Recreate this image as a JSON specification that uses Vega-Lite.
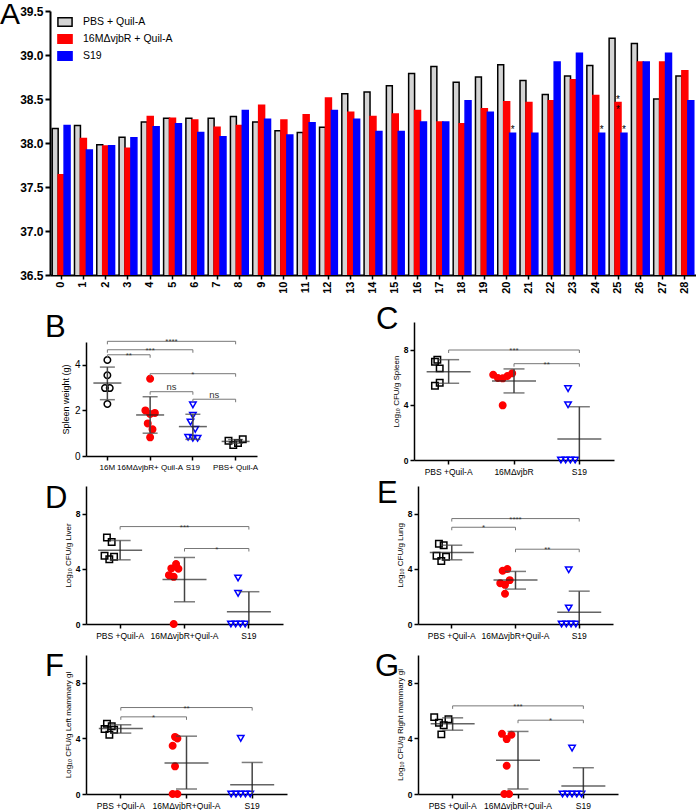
{
 "$schema": "https://vega.github.io/schema/vega-lite/v6.json",
 "padding": 0,
 "background": "white",
 "config": {
  "view": {"stroke": null},
  "font": "Liberation Sans",
  "axis": {"grid": false, "domainColor": "#000000", "tickColor": "#000000", "labelColor": "#000000", "titleColor": "#000000", "labelFont": "Liberation Sans", "titleFont": "Liberation Sans", "labelOverlap": false},
  "title": {"font": "Liberation Sans", "fontSize": 31, "fontWeight": "normal", "color": "#000000", "anchor": "start", "frame": "group", "baseline": "alphabetic"}
 },
 "datasets": {
  "temp": [
   {"day":0,"series":"PBS + Quil-A","value":38.165},{"day":0,"series":"16MΔvjbR + Quil-A","value":37.64},{"day":0,"series":"S19","value":38.2},
   {"day":1,"series":"PBS + Quil-A","value":38.2},{"day":1,"series":"16MΔvjbR + Quil-A","value":38.05},{"day":1,"series":"S19","value":37.92},
   {"day":2,"series":"PBS + Quil-A","value":37.98},{"day":2,"series":"16MΔvjbR + Quil-A","value":37.965},{"day":2,"series":"S19","value":37.97},
   {"day":3,"series":"PBS + Quil-A","value":38.065},{"day":3,"series":"16MΔvjbR + Quil-A","value":37.94},{"day":3,"series":"S19","value":38.06},
   {"day":4,"series":"PBS + Quil-A","value":38.24},{"day":4,"series":"16MΔvjbR + Quil-A","value":38.3},{"day":4,"series":"S19","value":38.185},
   {"day":5,"series":"PBS + Quil-A","value":38.28},{"day":5,"series":"16MΔvjbR + Quil-A","value":38.28},{"day":5,"series":"S19","value":38.22},
   {"day":6,"series":"PBS + Quil-A","value":38.28},{"day":6,"series":"16MΔvjbR + Quil-A","value":38.26},{"day":6,"series":"S19","value":38.12},
   {"day":7,"series":"PBS + Quil-A","value":38.28},{"day":7,"series":"16MΔvjbR + Quil-A","value":38.18},{"day":7,"series":"S19","value":38.07},
   {"day":8,"series":"PBS + Quil-A","value":38.3},{"day":8,"series":"16MΔvjbR + Quil-A","value":38.2},{"day":8,"series":"S19","value":38.37},
   {"day":9,"series":"PBS + Quil-A","value":38.24},{"day":9,"series":"16MΔvjbR + Quil-A","value":38.43},{"day":9,"series":"S19","value":38.27},
   {"day":10,"series":"PBS + Quil-A","value":38.14},{"day":10,"series":"16MΔvjbR + Quil-A","value":38.26},{"day":10,"series":"S19","value":38.09},
   {"day":11,"series":"PBS + Quil-A","value":38.12},{"day":11,"series":"16MΔvjbR + Quil-A","value":38.32},{"day":11,"series":"S19","value":38.23},
   {"day":12,"series":"PBS + Quil-A","value":38.18},{"day":12,"series":"16MΔvjbR + Quil-A","value":38.51},{"day":12,"series":"S19","value":38.37},
   {"day":13,"series":"PBS + Quil-A","value":38.56},{"day":13,"series":"16MΔvjbR + Quil-A","value":38.35},{"day":13,"series":"S19","value":38.27},
   {"day":14,"series":"PBS + Quil-A","value":38.58},{"day":14,"series":"16MΔvjbR + Quil-A","value":38.3},{"day":14,"series":"S19","value":38.13},
   {"day":15,"series":"PBS + Quil-A","value":38.65},{"day":15,"series":"16MΔvjbR + Quil-A","value":38.33},{"day":15,"series":"S19","value":38.13},
   {"day":16,"series":"PBS + Quil-A","value":38.79},{"day":16,"series":"16MΔvjbR + Quil-A","value":38.37},{"day":16,"series":"S19","value":38.24},
   {"day":17,"series":"PBS + Quil-A","value":38.87},{"day":17,"series":"16MΔvjbR + Quil-A","value":38.24},{"day":17,"series":"S19","value":38.24},
   {"day":18,"series":"PBS + Quil-A","value":38.69},{"day":18,"series":"16MΔvjbR + Quil-A","value":38.22},{"day":18,"series":"S19","value":38.48},
   {"day":19,"series":"PBS + Quil-A","value":38.75},{"day":19,"series":"16MΔvjbR + Quil-A","value":38.39},{"day":19,"series":"S19","value":38.35},
   {"day":20,"series":"PBS + Quil-A","value":38.89},{"day":20,"series":"16MΔvjbR + Quil-A","value":38.47},{"day":20,"series":"S19","value":38.11},
   {"day":21,"series":"PBS + Quil-A","value":38.71},{"day":21,"series":"16MΔvjbR + Quil-A","value":38.46},{"day":21,"series":"S19","value":38.11},
   {"day":22,"series":"PBS + Quil-A","value":38.55},{"day":22,"series":"16MΔvjbR + Quil-A","value":38.48},{"day":22,"series":"S19","value":38.92},
   {"day":23,"series":"PBS + Quil-A","value":38.76},{"day":23,"series":"16MΔvjbR + Quil-A","value":38.72},{"day":23,"series":"S19","value":39.02},
   {"day":24,"series":"PBS + Quil-A","value":38.88},{"day":24,"series":"16MΔvjbR + Quil-A","value":38.54},{"day":24,"series":"S19","value":38.11},
   {"day":25,"series":"PBS + Quil-A","value":39.19},{"day":25,"series":"16MΔvjbR + Quil-A","value":38.46},{"day":25,"series":"S19","value":38.11},
   {"day":26,"series":"PBS + Quil-A","value":39.13},{"day":26,"series":"16MΔvjbR + Quil-A","value":38.92},{"day":26,"series":"S19","value":38.92},
   {"day":27,"series":"PBS + Quil-A","value":38.5},{"day":27,"series":"16MΔvjbR + Quil-A","value":38.92},{"day":27,"series":"S19","value":39.02},
   {"day":28,"series":"PBS + Quil-A","value":38.76},{"day":28,"series":"16MΔvjbR + Quil-A","value":38.82},{"day":28,"series":"S19","value":38.48}
  ],
  "stars": [
   {"day":20,"series":"S19","value":38.11,"lab":"*"},
   {"day":24,"series":"S19","value":38.11,"lab":"*"},
   {"day":25,"series":"16MΔvjbR + Quil-A","value":38.46,"lab":"*\n*"},
   {"day":25,"series":"S19","value":38.11,"lab":"*"}
  ],
  "pts": [
   {"p":"B","grp":"16M","t":"wt","v":4.21,"s":0},{"p":"B","grp":"16M","t":"wt","v":3.54,"s":0},{"p":"B","grp":"16M","t":"wt","v":2.98,"s":-1},{"p":"B","grp":"16M","t":"wt","v":2.98,"s":1},{"p":"B","grp":"16M","t":"wt","v":2.28,"s":0},
   {"p":"B","grp":"16MΔvjbR+ Quil-A","t":"mut","v":3.39,"s":0},{"p":"B","grp":"16MΔvjbR+ Quil-A","t":"mut","v":2.0,"s":-2},{"p":"B","grp":"16MΔvjbR+ Quil-A","t":"mut","v":1.89,"s":2},{"p":"B","grp":"16MΔvjbR+ Quil-A","t":"mut","v":1.84,"s":0},{"p":"B","grp":"16MΔvjbR+ Quil-A","t":"mut","v":1.43,"s":-1},{"p":"B","grp":"16MΔvjbR+ Quil-A","t":"mut","v":1.17,"s":1},{"p":"B","grp":"16MΔvjbR+ Quil-A","t":"mut","v":0.82,"s":0},
   {"p":"B","grp":"S19","t":"s19","v":2.24,"s":0},{"p":"B","grp":"S19","t":"s19","v":1.78,"s":0},{"p":"B","grp":"S19","t":"s19","v":1.49,"s":-1},{"p":"B","grp":"S19","t":"s19","v":1.17,"s":1},{"p":"B","grp":"S19","t":"s19","v":0.82,"s":-2},{"p":"B","grp":"S19","t":"s19","v":0.78,"s":0},{"p":"B","grp":"S19","t":"s19","v":0.78,"s":2},
   {"p":"B","grp":"PBS+ Quil-A","t":"pbs","v":0.67,"s":-3},{"p":"B","grp":"PBS+ Quil-A","t":"pbs","v":0.48,"s":-1},{"p":"B","grp":"PBS+ Quil-A","t":"pbs","v":0.57,"s":1},{"p":"B","grp":"PBS+ Quil-A","t":"pbs","v":0.73,"s":3},

   {"p":"C","grp":"PBS +Quil-A","t":"pbs","v":7.12,"s":-1},{"p":"C","grp":"PBS +Quil-A","t":"pbs","v":7.27,"s":0},{"p":"C","grp":"PBS +Quil-A","t":"pbs","v":6.64,"s":1},{"p":"C","grp":"PBS +Quil-A","t":"pbs","v":5.6,"s":1},{"p":"C","grp":"PBS +Quil-A","t":"pbs","v":5.38,"s":-1},
   {"p":"C","grp":"16MΔvjbR","t":"mut","v":6.18,"s":-4},{"p":"C","grp":"16MΔvjbR","t":"mut","v":5.94,"s":-2},{"p":"C","grp":"16MΔvjbR","t":"mut","v":5.92,"s":0},{"p":"C","grp":"16MΔvjbR","t":"mut","v":6.09,"s":2},{"p":"C","grp":"16MΔvjbR","t":"mut","v":6.28,"s":4},{"p":"C","grp":"16MΔvjbR","t":"mut","v":3.96,"s":0},
   {"p":"C","grp":"S19","t":"s19","v":5.17,"s":0},{"p":"C","grp":"S19","t":"s19","v":4.0,"s":0},{"p":"C","grp":"S19","t":"s19","v":0,"s":-3},{"p":"C","grp":"S19","t":"s19","v":0,"s":-1},{"p":"C","grp":"S19","t":"s19","v":0,"s":1},{"p":"C","grp":"S19","t":"s19","v":0,"s":3},

   {"p":"D","grp":"PBS +Quil-A","t":"pbs","v":6.27,"s":-1},{"p":"D","grp":"PBS +Quil-A","t":"pbs","v":5.95,"s":1},{"p":"D","grp":"PBS +Quil-A","t":"pbs","v":4.94,"s":-2},{"p":"D","grp":"PBS +Quil-A","t":"pbs","v":4.7,"s":0},{"p":"D","grp":"PBS +Quil-A","t":"pbs","v":4.87,"s":2},
   {"p":"D","grp":"16MΔvjbR+Quil-A","t":"mut","v":3.54,"s":-2},{"p":"D","grp":"16MΔvjbR+Quil-A","t":"mut","v":3.42,"s":0},{"p":"D","grp":"16MΔvjbR+Quil-A","t":"mut","v":4.03,"s":-1},{"p":"D","grp":"16MΔvjbR+Quil-A","t":"mut","v":4.34,"s":1},{"p":"D","grp":"16MΔvjbR+Quil-A","t":"mut","v":4.0,"s":2},{"p":"D","grp":"16MΔvjbR+Quil-A","t":"mut","v":0,"s":0},
   {"p":"D","grp":"S19","t":"s19","v":3.33,"s":0},{"p":"D","grp":"S19","t":"s19","v":2.22,"s":0},{"p":"D","grp":"S19","t":"s19","v":0,"s":-3},{"p":"D","grp":"S19","t":"s19","v":0,"s":-1},{"p":"D","grp":"S19","t":"s19","v":0,"s":1},{"p":"D","grp":"S19","t":"s19","v":0,"s":3},

   {"p":"E","grp":"PBS +Quil-A","t":"pbs","v":5.81,"s":-1},{"p":"E","grp":"PBS +Quil-A","t":"pbs","v":5.71,"s":1},{"p":"E","grp":"PBS +Quil-A","t":"pbs","v":4.94,"s":-2},{"p":"E","grp":"PBS +Quil-A","t":"pbs","v":4.87,"s":2},{"p":"E","grp":"PBS +Quil-A","t":"pbs","v":4.56,"s":0},
   {"p":"E","grp":"16MΔvjbR+Quil-A","t":"mut","v":3.86,"s":-1},{"p":"E","grp":"16MΔvjbR+Quil-A","t":"mut","v":3.98,"s":1},{"p":"E","grp":"16MΔvjbR+Quil-A","t":"mut","v":3.18,"s":2},{"p":"E","grp":"16MΔvjbR+Quil-A","t":"mut","v":2.96,"s":-2},{"p":"E","grp":"16MΔvjbR+Quil-A","t":"mut","v":2.84,"s":0},{"p":"E","grp":"16MΔvjbR+Quil-A","t":"mut","v":2.19,"s":0},
   {"p":"E","grp":"S19","t":"s19","v":3.93,"s":0},{"p":"E","grp":"S19","t":"s19","v":1.16,"s":0},{"p":"E","grp":"S19","t":"s19","v":0,"s":-3},{"p":"E","grp":"S19","t":"s19","v":0,"s":-1},{"p":"E","grp":"S19","t":"s19","v":0,"s":1},{"p":"E","grp":"S19","t":"s19","v":0,"s":3},

   {"p":"F","grp":"PBS +Quil-A","t":"pbs","v":5.05,"s":-1},{"p":"F","grp":"PBS +Quil-A","t":"pbs","v":4.88,"s":1},{"p":"F","grp":"PBS +Quil-A","t":"pbs","v":4.67,"s":-2},{"p":"F","grp":"PBS +Quil-A","t":"pbs","v":4.62,"s":2},{"p":"F","grp":"PBS +Quil-A","t":"pbs","v":4.26,"s":0},
   {"p":"F","grp":"16MΔvjbR+Quil-A","t":"mut","v":4.11,"s":0},{"p":"F","grp":"16MΔvjbR+Quil-A","t":"mut","v":4.0,"s":1},{"p":"F","grp":"16MΔvjbR+Quil-A","t":"mut","v":3.47,"s":-1},{"p":"F","grp":"16MΔvjbR+Quil-A","t":"mut","v":1.99,"s":0},{"p":"F","grp":"16MΔvjbR+Quil-A","t":"mut","v":0,"s":-1},{"p":"F","grp":"16MΔvjbR+Quil-A","t":"mut","v":0,"s":1},
   {"p":"F","grp":"S19","t":"s19","v":4.0,"s":0},{"p":"F","grp":"S19","t":"s19","v":0,"s":-4},{"p":"F","grp":"S19","t":"s19","v":0,"s":-2},{"p":"F","grp":"S19","t":"s19","v":0,"s":0},{"p":"F","grp":"S19","t":"s19","v":0,"s":2},{"p":"F","grp":"S19","t":"s19","v":0,"s":4},

   {"p":"G","grp":"PBS +Quil-A","t":"pbs","v":5.53,"s":-3},{"p":"G","grp":"PBS +Quil-A","t":"pbs","v":5.12,"s":-1},{"p":"G","grp":"PBS +Quil-A","t":"pbs","v":4.95,"s":1},{"p":"G","grp":"PBS +Quil-A","t":"pbs","v":5.38,"s":3},{"p":"G","grp":"PBS +Quil-A","t":"pbs","v":4.29,"s":0},
   {"p":"G","grp":"16MΔvjbR+Quil-A","t":"mut","v":4.33,"s":-2},{"p":"G","grp":"16MΔvjbR+Quil-A","t":"mut","v":4.26,"s":2},{"p":"G","grp":"16MΔvjbR+Quil-A","t":"mut","v":3.95,"s":0},{"p":"G","grp":"16MΔvjbR+Quil-A","t":"mut","v":2.03,"s":0},{"p":"G","grp":"16MΔvjbR+Quil-A","t":"mut","v":0,"s":-1},{"p":"G","grp":"16MΔvjbR+Quil-A","t":"mut","v":0,"s":1},
   {"p":"G","grp":"S19","t":"s19","v":3.3,"s":0},{"p":"G","grp":"S19","t":"s19","v":0,"s":-4},{"p":"G","grp":"S19","t":"s19","v":0,"s":-2},{"p":"G","grp":"S19","t":"s19","v":0,"s":0},{"p":"G","grp":"S19","t":"s19","v":0,"s":2},{"p":"G","grp":"S19","t":"s19","v":0,"s":4}
  ],
  "sum": [
   {"p":"B","g":1,"mean":3.2,"lo":2.47,"hi":3.9},{"p":"B","g":2,"mean":1.8,"lo":1.0,"hi":2.6},{"p":"B","g":3,"mean":1.29,"lo":0.73,"hi":1.83},{"p":"B","g":4,"mean":0.64,"lo":0.56,"hi":0.72},
   {"p":"C","g":1,"mean":6.4,"lo":5.56,"hi":7.27},{"p":"C","g":2,"mean":5.72,"lo":4.86,"hi":6.6},{"p":"C","g":3,"mean":1.52,"lo":-0.82,"hi":3.86},
   {"p":"D","g":1,"mean":5.35,"lo":4.65,"hi":6.05},{"p":"D","g":2,"mean":3.23,"lo":1.61,"hi":4.82},{"p":"D","g":3,"mean":0.89,"lo":-0.56,"hi":2.34},
   {"p":"E","g":1,"mean":5.18,"lo":4.65,"hi":5.71},{"p":"E","g":2,"mean":3.18,"lo":2.53,"hi":3.81},{"p":"E","g":3,"mean":0.85,"lo":-0.68,"hi":2.38},
   {"p":"F","g":1,"mean":4.71,"lo":4.38,"hi":4.98},{"p":"F","g":2,"mean":2.23,"lo":0.36,"hi":4.16},{"p":"F","g":3,"mean":0.67,"lo":-0.93,"hi":2.27},
   {"p":"G","g":1,"mean":5.05,"lo":4.59,"hi":5.48},{"p":"G","g":2,"mean":2.42,"lo":0.36,"hi":4.5},{"p":"G","g":3,"mean":0.57,"lo":-0.75,"hi":1.89}
  ],
  "br": [
   {"p":"B","g1":1,"g2":4,"gm":2.5,"h":5.03,"lab":"****"},{"p":"B","g1":1,"g2":3,"gm":2,"h":4.66,"lab":"***"},{"p":"B","g1":1,"g2":2,"gm":1.5,"h":4.44,"lab":"**"},{"p":"B","g1":2,"g2":4,"gm":3,"h":3.61,"lab":"*"},{"p":"B","g1":2,"g2":3,"gm":2.5,"h":2.82,"lab":"ns"},{"p":"B","g1":3,"g2":4,"gm":3.5,"h":2.49,"lab":"ns"},
   {"p":"C","g1":1,"g2":3,"gm":2,"h":7.97,"lab":"***"},{"p":"C","g1":2,"g2":3,"gm":2.5,"h":6.98,"lab":"**"},
   {"p":"D","g1":1,"g2":3,"gm":2,"h":7.06,"lab":"***"},{"p":"D","g1":2,"g2":3,"gm":2.5,"h":5.47,"lab":"*"},
   {"p":"E","g1":1,"g2":3,"gm":2,"h":7.64,"lab":"****"},{"p":"E","g1":1,"g2":2,"gm":1.5,"h":7.01,"lab":"*"},{"p":"E","g1":2,"g2":3,"gm":2.5,"h":5.42,"lab":"**"},
   {"p":"F","g1":1,"g2":3,"gm":2,"h":6.22,"lab":"**"},{"p":"F","g1":1,"g2":2,"gm":1.5,"h":5.55,"lab":"*"},
   {"p":"G","g1":1,"g2":3,"gm":2,"h":6.34,"lab":"***"},{"p":"G","g1":2,"g2":3,"gm":2.5,"h":5.31,"lab":"*"}
  ]
 },
 "resolve": {"scale": {"fill": "independent", "stroke": "independent", "shape": "independent"}},
 "align": "none",
 "spacing": 10,
 "vconcat": [
  {
   "width": 646, "height": 264,
   "title": {"text": "A", "dx": -50, "offset": -25, "fontSize": 30},
   "layer": [
    {
     "data": {"name": "temp"},
     "mark": {"type": "bar", "strokeWidth": 1.5, "clip": true},
     "encoding": {
      "x": {"field": "day", "type": "ordinal", "scale": {"type": "band", "paddingInner": 0.2, "paddingOuter": 0.1},
            "axis": {"title": null, "labelAngle": 270, "labelFontWeight": "bold", "labelFontSize": 11, "tickSize": 4, "tickWidth": 1.5, "domainWidth": 2, "labelPadding": 2}},
      "xOffset": {"field": "series", "type": "nominal", "scale": {"domain": ["PBS + Quil-A", "16MΔvjbR + Quil-A", "S19"], "paddingInner": 0, "paddingOuter": 0}},
      "y": {"field": "value", "type": "quantitative", "scale": {"domain": [36.5, 39.5], "zero": false, "nice": false},
            "axis": {"title": null, "values": [36.5, 37, 37.5, 38, 38.5, 39, 39.5], "format": ".1f", "labelFontWeight": "bold", "labelFontSize": 12, "tickSize": 5, "tickWidth": 2, "domainWidth": 2, "labelPadding": 2}},
      "fill": {"field": "series", "type": "nominal", "scale": {"domain": ["PBS + Quil-A", "16MΔvjbR + Quil-A", "S19"], "range": ["#d4d4d4", "#ff0000", "#0000ff"]},
               "legend": {"title": null, "orient": "none", "legendX": 7, "legendY": 3, "labelFontSize": 10.5, "labelFont": "Liberation Sans", "labelColor": "#000000", "symbolType": "M-1,-0.6H1V0.6H-1Z", "symbolSize": 200, "symbolStrokeWidth": 1.5, "rowPadding": 1, "labelOffset": 10, "padding": 0}},
      "stroke": {"field": "series", "type": "nominal", "scale": {"domain": ["PBS + Quil-A", "16MΔvjbR + Quil-A", "S19"], "range": ["#000000", "#ff0000", "#0000ff"]},
               "legend": {"title": null, "orient": "none", "legendX": 7, "legendY": 3, "labelFontSize": 10.5, "labelFont": "Liberation Sans", "labelColor": "#000000", "symbolType": "M-1,-0.6H1V0.6H-1Z", "symbolSize": 200, "symbolStrokeWidth": 1.5, "rowPadding": 1, "labelOffset": 10, "padding": 0}}
     }
    },
    {
     "data": {"name": "stars"},
     "mark": {"type": "text", "fontSize": 10, "baseline": "bottom", "dy": 2, "lineBreak": "\n", "lineHeight": 10, "color": "#000000"},
     "encoding": {
      "x": {"field": "day", "type": "ordinal"},
      "xOffset": {"field": "series", "type": "nominal"},
      "y": {"field": "value", "type": "quantitative"},
      "text": {"field": "lab"}
     }
    }
   ]
  },
  {
   "spacing": -6,
   "hconcat": [
    {"width": 1, "height": 1, "data": {"values": []}, "mark": "point"},
    {
     "spacing": 2,
     "vconcat": [
      {
       "spacing": 118,
       "hconcat": [
        {
         "spacing": -11,
         "vconcat": [
          {"width": 1, "height": 1, "data": {"values": []}, "mark": "point"},
          {
           "width": 171, "height": 114,
           "title": {"text": "B", "dx": -41, "offset": -6},
           "layer": [
            {
             "data": {"name": "pts"}, "transform": [{"filter": "datum.p === 'B'"}],
             "mark": {"type": "point", "size": 42, "strokeWidth": 1.5, "opacity": 1},
             "encoding": {
              "x": {"field": "grp", "type": "nominal", "scale": {"type": "band", "domain": ["16M", "16MΔvjbR+ Quil-A", "S19", "PBS+ Quil-A"], "paddingInner": 0, "paddingOuter": 0},
                    "axis": {"title": null, "labelAngle": 0, "labelFontSize": 8, "labelPadding": 3, "tickSize": 4, "tickWidth": 1.5, "domainWidth": 1.5, "labelBound": false, "labelFlush": false}},
              "xOffset": {"field": "s", "type": "quantitative", "scale": {"domain": [-6.5, 6.5]}},
              "y": {"field": "v", "type": "quantitative", "scale": {"domain": [0, 5], "nice": false},
                    "axis": {"title": "Spleen weight (g)", "values": [0, 1, 2, 3, 4, 5], "labelFontSize": 10, "tickSize": 4, "tickWidth": 1.5, "domainWidth": 1.5, "titleFontSize": 9, "titleFontWeight": "normal", "titlePadding": 4, "labelPadding": 2}},
              "shape": {"field": "t", "type": "nominal", "scale": {"domain": ["wt", "pbs", "mut", "s19"], "range": ["circle", "square", "circle", "triangle-down"]}, "legend": null},
              "stroke": {"field": "t", "type": "nominal", "scale": {"domain": ["wt", "pbs", "mut", "s19"], "range": ["#000000", "#000000", "#ff0000", "#0000ff"]}, "legend": null},
              "fill": {"field": "t", "type": "nominal", "scale": {"domain": ["wt", "pbs", "mut", "s19"], "range": ["transparent", "transparent", "#ff0000", "transparent"]}, "legend": null}
             }
            },
            {
             "layer": [
              {"data": {"name": "sum"}, "transform": [{"filter": "datum.p === 'B'"}], "mark": {"type": "rule", "color": "#444444", "strokeWidth": 1.5, "clip": true},
               "encoding": {"x": {"field": "g", "type": "quantitative", "scale": {"domain": [0.5, 4.5]}, "axis": null}, "y": {"field": "lo", "type": "quantitative", "scale": {"domain": [0, 5], "nice": false}}, "y2": {"field": "hi"}}},
              {"data": {"name": "sum"}, "transform": [{"filter": "datum.p === 'B'"}], "mark": {"type": "tick", "orient": "horizontal", "size": 28, "thickness": 1.5, "color": "#222222"},
               "encoding": {"x": {"field": "g", "type": "quantitative", "scale": {"domain": [0.5, 4.5]}, "axis": null}, "y": {"field": "mean", "type": "quantitative", "scale": {"domain": [0, 5], "nice": false}}}},
              {"data": {"name": "sum"}, "transform": [{"filter": "datum.p === 'B'"}], "mark": {"type": "tick", "orient": "horizontal", "size": 15, "thickness": 1.5, "color": "#444444", "clip": true},
               "encoding": {"x": {"field": "g", "type": "quantitative", "scale": {"domain": [0.5, 4.5]}, "axis": null}, "y": {"field": "hi", "type": "quantitative", "scale": {"domain": [0, 5], "nice": false}}}},
              {"data": {"name": "sum"}, "transform": [{"filter": "datum.p === 'B'"}], "mark": {"type": "tick", "orient": "horizontal", "size": 15, "thickness": 1.5, "color": "#444444", "clip": true},
               "encoding": {"x": {"field": "g", "type": "quantitative", "scale": {"domain": [0.5, 4.5]}, "axis": null}, "y": {"field": "lo", "type": "quantitative", "scale": {"domain": [0, 5], "nice": false}}}},
              {"data": {"name": "br"}, "transform": [{"filter": "datum.p === 'B'"}], "mark": {"type": "rule", "color": "#777777", "strokeWidth": 1},
               "encoding": {"x": {"field": "g1", "type": "quantitative", "scale": {"domain": [0.5, 4.5]}, "axis": null}, "x2": {"field": "g2"}, "y": {"field": "h", "type": "quantitative", "scale": {"domain": [0, 5], "nice": false}}}},
              {"data": {"name": "br"}, "transform": [{"filter": "datum.p === 'B'"}], "mark": {"type": "point", "shape": "M0,0L0,1", "size": 36, "stroke": "#777777", "strokeWidth": 1, "filled": false, "opacity": 1},
               "encoding": {"x": {"field": "g1", "type": "quantitative", "scale": {"domain": [0.5, 4.5]}, "axis": null}, "y": {"field": "h", "type": "quantitative", "scale": {"domain": [0, 5], "nice": false}}}},
              {"data": {"name": "br"}, "transform": [{"filter": "datum.p === 'B'"}], "mark": {"type": "point", "shape": "M0,0L0,1", "size": 36, "stroke": "#777777", "strokeWidth": 1, "filled": false, "opacity": 1},
               "encoding": {"x": {"field": "g2", "type": "quantitative", "scale": {"domain": [0.5, 4.5]}, "axis": null}, "y": {"field": "h", "type": "quantitative", "scale": {"domain": [0, 5], "nice": false}}}},
              {"data": {"name": "br"}, "transform": [{"filter": "datum.p === 'B' && datum.lab !== 'ns'"}], "mark": {"type": "text", "fontSize": 8, "baseline": "alphabetic", "dy": 3, "color": "#333333"},
               "encoding": {"x": {"field": "gm", "type": "quantitative", "scale": {"domain": [0.5, 4.5]}, "axis": null}, "y": {"field": "h", "type": "quantitative", "scale": {"domain": [0, 5], "nice": false}}, "text": {"field": "lab"}}},
              {"data": {"name": "br"}, "transform": [{"filter": "datum.p === 'B' && datum.lab === 'ns'"}], "mark": {"type": "text", "fontSize": 9.5, "baseline": "alphabetic", "dy": -1.5, "color": "#333333"},
               "encoding": {"x": {"field": "gm", "type": "quantitative", "scale": {"domain": [0.5, 4.5]}, "axis": null}, "y": {"field": "h", "type": "quantitative", "scale": {"domain": [0, 5], "nice": false}}, "text": {"field": "lab"}}}
             ]
            }
           ],
           "resolve": {"scale": {"x": "independent"}}
          }
         ]
        },
        {
         "width": 200, "height": 138,
         "title": {"text": "C", "dx": -38, "offset": -14},
         "layer": [
          {
           "data": {"name": "pts"}, "transform": [{"filter": "datum.p === 'C'"}],
           "mark": {"type": "point", "size": 42, "strokeWidth": 1.5, "opacity": 1},
           "encoding": {
            "x": {"field": "grp", "type": "nominal", "scale": {"type": "band", "domain": ["PBS +Quil-A", "16MΔvjbR", "S19"], "paddingInner": 0, "paddingOuter": 0.03},
                  "axis": {"title": null, "labelAngle": 0, "labelFontSize": 8.5, "labelPadding": 3, "tickSize": 4, "tickWidth": 1.5, "domainWidth": 1.5, "labelBound": false, "labelFlush": false}},
            "xOffset": {"field": "s", "type": "quantitative", "scale": {"domain": [-9, 9]}},
            "y": {"field": "v", "type": "quantitative", "scale": {"domain": [0, 10], "nice": false},
                  "axis": {"title": "Log₁₀ CFU/g Spleen", "values": [0, 2, 4, 6, 8, 10], "labelFontSize": 8.5, "labelFontWeight": "bold", "tickSize": 4, "tickWidth": 1.5, "domainWidth": 1.5, "titleFontSize": 8, "titleFontWeight": "normal", "titlePadding": 3, "labelPadding": 2}},
            "shape": {"field": "t", "type": "nominal", "scale": {"domain": ["wt", "pbs", "mut", "s19"], "range": ["circle", "square", "circle", "triangle-down"]}, "legend": null},
            "stroke": {"field": "t", "type": "nominal", "scale": {"domain": ["wt", "pbs", "mut", "s19"], "range": ["#000000", "#000000", "#ff0000", "#0000ff"]}, "legend": null},
            "fill": {"field": "t", "type": "nominal", "scale": {"domain": ["wt", "pbs", "mut", "s19"], "range": ["transparent", "transparent", "#ff0000", "transparent"]}, "legend": null}
           }
          },
          {
           "layer": [
            {"data": {"name": "sum"}, "transform": [{"filter": "datum.p === 'C'"}], "mark": {"type": "rule", "color": "#444444", "strokeWidth": 1.5, "clip": true},
             "encoding": {"x": {"field": "g", "type": "quantitative", "scale": {"domain": [0.47, 3.53]}, "axis": null}, "y": {"field": "lo", "type": "quantitative", "scale": {"domain": [0, 10], "nice": false}}, "y2": {"field": "hi"}}},
            {"data": {"name": "sum"}, "transform": [{"filter": "datum.p === 'C'"}], "mark": {"type": "tick", "orient": "horizontal", "size": 44, "thickness": 1.5, "color": "#222222"},
             "encoding": {"x": {"field": "g", "type": "quantitative", "scale": {"domain": [0.47, 3.53]}, "axis": null}, "y": {"field": "mean", "type": "quantitative", "scale": {"domain": [0, 10], "nice": false}}}},
            {"data": {"name": "sum"}, "transform": [{"filter": "datum.p === 'C'"}], "mark": {"type": "tick", "orient": "horizontal", "size": 21, "thickness": 1.5, "color": "#444444", "clip": true},
             "encoding": {"x": {"field": "g", "type": "quantitative", "scale": {"domain": [0.47, 3.53]}, "axis": null}, "y": {"field": "hi", "type": "quantitative", "scale": {"domain": [0, 10], "nice": false}}}},
            {"data": {"name": "sum"}, "transform": [{"filter": "datum.p === 'C'"}], "mark": {"type": "tick", "orient": "horizontal", "size": 21, "thickness": 1.5, "color": "#444444", "clip": true},
             "encoding": {"x": {"field": "g", "type": "quantitative", "scale": {"domain": [0.47, 3.53]}, "axis": null}, "y": {"field": "lo", "type": "quantitative", "scale": {"domain": [0, 10], "nice": false}}}},
            {"data": {"name": "br"}, "transform": [{"filter": "datum.p === 'C'"}], "mark": {"type": "rule", "color": "#777777", "strokeWidth": 1},
             "encoding": {"x": {"field": "g1", "type": "quantitative", "scale": {"domain": [0.47, 3.53]}, "axis": null}, "x2": {"field": "g2"}, "y": {"field": "h", "type": "quantitative", "scale": {"domain": [0, 10], "nice": false}}}},
            {"data": {"name": "br"}, "transform": [{"filter": "datum.p === 'C'"}], "mark": {"type": "point", "shape": "M0,0L0,1", "size": 36, "stroke": "#777777", "strokeWidth": 1, "filled": false, "opacity": 1},
             "encoding": {"x": {"field": "g1", "type": "quantitative", "scale": {"domain": [0.47, 3.53]}, "axis": null}, "y": {"field": "h", "type": "quantitative", "scale": {"domain": [0, 10], "nice": false}}}},
            {"data": {"name": "br"}, "transform": [{"filter": "datum.p === 'C'"}], "mark": {"type": "point", "shape": "M0,0L0,1", "size": 36, "stroke": "#777777", "strokeWidth": 1, "filled": false, "opacity": 1},
             "encoding": {"x": {"field": "g2", "type": "quantitative", "scale": {"domain": [0.47, 3.53]}, "axis": null}, "y": {"field": "h", "type": "quantitative", "scale": {"domain": [0, 10], "nice": false}}}},
            {"data": {"name": "br"}, "transform": [{"filter": "datum.p === 'C'"}], "mark": {"type": "text", "fontSize": 8, "baseline": "alphabetic", "dy": 3, "color": "#333333"},
             "encoding": {"x": {"field": "gm", "type": "quantitative", "scale": {"domain": [0.47, 3.53]}, "axis": null}, "y": {"field": "h", "type": "quantitative", "scale": {"domain": [0, 10], "nice": false}}, "text": {"field": "lab"}}}
           ]
          }
         ],
         "resolve": {"scale": {"x": "independent"}}
        }
       ]
      },
      {
       "spacing": 11,
       "vconcat": [
        {
         "spacing": 94,
         "hconcat": [
          {
           "width": 197, "height": 138,
           "title": {"text": "D", "dx": -41, "offset": -29},
           "layer": [
            {
             "data": {"name": "pts"}, "transform": [{"filter": "datum.p === 'D'"}],
             "mark": {"type": "point", "size": 42, "strokeWidth": 1.5, "opacity": 1},
             "encoding": {
              "x": {"field": "grp", "type": "nominal", "scale": {"type": "band", "domain": ["PBS +Quil-A", "16MΔvjbR+Quil-A", "S19"], "paddingInner": 0, "paddingOuter": 0.03},
                    "axis": {"title": null, "labelAngle": 0, "labelFontSize": 8.5, "labelPadding": 3, "tickSize": 4, "tickWidth": 1.5, "domainWidth": 1.5, "labelBound": false, "labelFlush": false}},
              "xOffset": {"field": "s", "type": "quantitative", "scale": {"domain": [-9, 9]}},
              "y": {"field": "v", "type": "quantitative", "scale": {"domain": [0, 10], "nice": false},
                    "axis": {"title": "Log₁₀ CFU/g Liver", "values": [0, 2, 4, 6, 8, 10], "labelFontSize": 8.5, "labelFontWeight": "bold", "tickSize": 4, "tickWidth": 1.5, "domainWidth": 1.5, "titleFontSize": 8, "titleFontWeight": "normal", "titlePadding": 3, "labelPadding": 2}},
              "shape": {"field": "t", "type": "nominal", "scale": {"domain": ["wt", "pbs", "mut", "s19"], "range": ["circle", "square", "circle", "triangle-down"]}, "legend": null},
              "stroke": {"field": "t", "type": "nominal", "scale": {"domain": ["wt", "pbs", "mut", "s19"], "range": ["#000000", "#000000", "#ff0000", "#0000ff"]}, "legend": null},
              "fill": {"field": "t", "type": "nominal", "scale": {"domain": ["wt", "pbs", "mut", "s19"], "range": ["transparent", "transparent", "#ff0000", "transparent"]}, "legend": null}
             }
            },
            {
             "layer": [
              {"data": {"name": "sum"}, "transform": [{"filter": "datum.p === 'D'"}], "mark": {"type": "rule", "color": "#444444", "strokeWidth": 1.5, "clip": true},
               "encoding": {"x": {"field": "g", "type": "quantitative", "scale": {"domain": [0.47, 3.53]}, "axis": null}, "y": {"field": "lo", "type": "quantitative", "scale": {"domain": [0, 10], "nice": false}}, "y2": {"field": "hi"}}},
              {"data": {"name": "sum"}, "transform": [{"filter": "datum.p === 'D'"}], "mark": {"type": "tick", "orient": "horizontal", "size": 44, "thickness": 1.5, "color": "#222222"},
               "encoding": {"x": {"field": "g", "type": "quantitative", "scale": {"domain": [0.47, 3.53]}, "axis": null}, "y": {"field": "mean", "type": "quantitative", "scale": {"domain": [0, 10], "nice": false}}}},
              {"data": {"name": "sum"}, "transform": [{"filter": "datum.p === 'D'"}], "mark": {"type": "tick", "orient": "horizontal", "size": 21, "thickness": 1.5, "color": "#444444", "clip": true},
               "encoding": {"x": {"field": "g", "type": "quantitative", "scale": {"domain": [0.47, 3.53]}, "axis": null}, "y": {"field": "hi", "type": "quantitative", "scale": {"domain": [0, 10], "nice": false}}}},
              {"data": {"name": "sum"}, "transform": [{"filter": "datum.p === 'D'"}], "mark": {"type": "tick", "orient": "horizontal", "size": 21, "thickness": 1.5, "color": "#444444", "clip": true},
               "encoding": {"x": {"field": "g", "type": "quantitative", "scale": {"domain": [0.47, 3.53]}, "axis": null}, "y": {"field": "lo", "type": "quantitative", "scale": {"domain": [0, 10], "nice": false}}}},
              {"data": {"name": "br"}, "transform": [{"filter": "datum.p === 'D'"}], "mark": {"type": "rule", "color": "#777777", "strokeWidth": 1},
               "encoding": {"x": {"field": "g1", "type": "quantitative", "scale": {"domain": [0.47, 3.53]}, "axis": null}, "x2": {"field": "g2"}, "y": {"field": "h", "type": "quantitative", "scale": {"domain": [0, 10], "nice": false}}}},
              {"data": {"name": "br"}, "transform": [{"filter": "datum.p === 'D'"}], "mark": {"type": "point", "shape": "M0,0L0,1", "size": 36, "stroke": "#777777", "strokeWidth": 1, "filled": false, "opacity": 1},
               "encoding": {"x": {"field": "g1", "type": "quantitative", "scale": {"domain": [0.47, 3.53]}, "axis": null}, "y": {"field": "h", "type": "quantitative", "scale": {"domain": [0, 10], "nice": false}}}},
              {"data": {"name": "br"}, "transform": [{"filter": "datum.p === 'D'"}], "mark": {"type": "point", "shape": "M0,0L0,1", "size": 36, "stroke": "#777777", "strokeWidth": 1, "filled": false, "opacity": 1},
               "encoding": {"x": {"field": "g2", "type": "quantitative", "scale": {"domain": [0.47, 3.53]}, "axis": null}, "y": {"field": "h", "type": "quantitative", "scale": {"domain": [0, 10], "nice": false}}}},
              {"data": {"name": "br"}, "transform": [{"filter": "datum.p === 'D'"}], "mark": {"type": "text", "fontSize": 8, "baseline": "alphabetic", "dy": 3, "color": "#333333"},
               "encoding": {"x": {"field": "gm", "type": "quantitative", "scale": {"domain": [0.47, 3.53]}, "axis": null}, "y": {"field": "h", "type": "quantitative", "scale": {"domain": [0, 10], "nice": false}}, "text": {"field": "lab"}}}
             ]
            }
           ],
           "resolve": {"scale": {"x": "independent"}}
          },
          {
           "width": 195, "height": 138,
           "title": {"text": "E", "dx": -41, "offset": -24},
           "layer": [
            {
             "data": {"name": "pts"}, "transform": [{"filter": "datum.p === 'E'"}],
             "mark": {"type": "point", "size": 42, "strokeWidth": 1.5, "opacity": 1},
             "encoding": {
              "x": {"field": "grp", "type": "nominal", "scale": {"type": "band", "domain": ["PBS +Quil-A", "16MΔvjbR+Quil-A", "S19"], "paddingInner": 0, "paddingOuter": 0.03},
                    "axis": {"title": null, "labelAngle": 0, "labelFontSize": 8.5, "labelPadding": 3, "tickSize": 4, "tickWidth": 1.5, "domainWidth": 1.5, "labelBound": false, "labelFlush": false}},
              "xOffset": {"field": "s", "type": "quantitative", "scale": {"domain": [-9, 9]}},
              "y": {"field": "v", "type": "quantitative", "scale": {"domain": [0, 10], "nice": false},
                    "axis": {"title": "Log₁₀ CFU/g Lung", "values": [0, 2, 4, 6, 8, 10], "labelFontSize": 8.5, "labelFontWeight": "bold", "tickSize": 4, "tickWidth": 1.5, "domainWidth": 1.5, "titleFontSize": 8, "titleFontWeight": "normal", "titlePadding": 3, "labelPadding": 2}},
              "shape": {"field": "t", "type": "nominal", "scale": {"domain": ["wt", "pbs", "mut", "s19"], "range": ["circle", "square", "circle", "triangle-down"]}, "legend": null},
              "stroke": {"field": "t", "type": "nominal", "scale": {"domain": ["wt", "pbs", "mut", "s19"], "range": ["#000000", "#000000", "#ff0000", "#0000ff"]}, "legend": null},
              "fill": {"field": "t", "type": "nominal", "scale": {"domain": ["wt", "pbs", "mut", "s19"], "range": ["transparent", "transparent", "#ff0000", "transparent"]}, "legend": null}
             }
            },
            {
             "layer": [
              {"data": {"name": "sum"}, "transform": [{"filter": "datum.p === 'E'"}], "mark": {"type": "rule", "color": "#444444", "strokeWidth": 1.5, "clip": true},
               "encoding": {"x": {"field": "g", "type": "quantitative", "scale": {"domain": [0.47, 3.53]}, "axis": null}, "y": {"field": "lo", "type": "quantitative", "scale": {"domain": [0, 10], "nice": false}}, "y2": {"field": "hi"}}},
              {"data": {"name": "sum"}, "transform": [{"filter": "datum.p === 'E'"}], "mark": {"type": "tick", "orient": "horizontal", "size": 44, "thickness": 1.5, "color": "#222222"},
               "encoding": {"x": {"field": "g", "type": "quantitative", "scale": {"domain": [0.47, 3.53]}, "axis": null}, "y": {"field": "mean", "type": "quantitative", "scale": {"domain": [0, 10], "nice": false}}}},
              {"data": {"name": "sum"}, "transform": [{"filter": "datum.p === 'E'"}], "mark": {"type": "tick", "orient": "horizontal", "size": 21, "thickness": 1.5, "color": "#444444", "clip": true},
               "encoding": {"x": {"field": "g", "type": "quantitative", "scale": {"domain": [0.47, 3.53]}, "axis": null}, "y": {"field": "hi", "type": "quantitative", "scale": {"domain": [0, 10], "nice": false}}}},
              {"data": {"name": "sum"}, "transform": [{"filter": "datum.p === 'E'"}], "mark": {"type": "tick", "orient": "horizontal", "size": 21, "thickness": 1.5, "color": "#444444", "clip": true},
               "encoding": {"x": {"field": "g", "type": "quantitative", "scale": {"domain": [0.47, 3.53]}, "axis": null}, "y": {"field": "lo", "type": "quantitative", "scale": {"domain": [0, 10], "nice": false}}}},
              {"data": {"name": "br"}, "transform": [{"filter": "datum.p === 'E'"}], "mark": {"type": "rule", "color": "#777777", "strokeWidth": 1},
               "encoding": {"x": {"field": "g1", "type": "quantitative", "scale": {"domain": [0.47, 3.53]}, "axis": null}, "x2": {"field": "g2"}, "y": {"field": "h", "type": "quantitative", "scale": {"domain": [0, 10], "nice": false}}}},
              {"data": {"name": "br"}, "transform": [{"filter": "datum.p === 'E'"}], "mark": {"type": "point", "shape": "M0,0L0,1", "size": 36, "stroke": "#777777", "strokeWidth": 1, "filled": false, "opacity": 1},
               "encoding": {"x": {"field": "g1", "type": "quantitative", "scale": {"domain": [0.47, 3.53]}, "axis": null}, "y": {"field": "h", "type": "quantitative", "scale": {"domain": [0, 10], "nice": false}}}},
              {"data": {"name": "br"}, "transform": [{"filter": "datum.p === 'E'"}], "mark": {"type": "point", "shape": "M0,0L0,1", "size": 36, "stroke": "#777777", "strokeWidth": 1, "filled": false, "opacity": 1},
               "encoding": {"x": {"field": "g2", "type": "quantitative", "scale": {"domain": [0.47, 3.53]}, "axis": null}, "y": {"field": "h", "type": "quantitative", "scale": {"domain": [0, 10], "nice": false}}}},
              {"data": {"name": "br"}, "transform": [{"filter": "datum.p === 'E'"}], "mark": {"type": "text", "fontSize": 8, "baseline": "alphabetic", "dy": 3, "color": "#333333"},
               "encoding": {"x": {"field": "gm", "type": "quantitative", "scale": {"domain": [0.47, 3.53]}, "axis": null}, "y": {"field": "h", "type": "quantitative", "scale": {"domain": [0, 10], "nice": false}}, "text": {"field": "lab"}}}
             ]
            }
           ],
           "resolve": {"scale": {"x": "independent"}}
          }
         ]
        },
        {
         "spacing": 88,
         "hconcat": [
          {
           "width": 201, "height": 139,
           "title": {"text": "F", "dx": -41, "offset": -28},
           "layer": [
            {
             "data": {"name": "pts"}, "transform": [{"filter": "datum.p === 'F'"}],
             "mark": {"type": "point", "size": 42, "strokeWidth": 1.5, "opacity": 1},
             "encoding": {
              "x": {"field": "grp", "type": "nominal", "scale": {"type": "band", "domain": ["PBS +Quil-A", "16MΔvjbR+Quil-A", "S19"], "paddingInner": 0, "paddingOuter": 0.03},
                    "axis": {"title": null, "labelAngle": 0, "labelFontSize": 8.5, "labelPadding": 3, "tickSize": 4, "tickWidth": 1.5, "domainWidth": 1.5, "labelBound": false, "labelFlush": false}},
              "xOffset": {"field": "s", "type": "quantitative", "scale": {"domain": [-9, 9]}},
              "y": {"field": "v", "type": "quantitative", "scale": {"domain": [0, 10], "nice": false},
                    "axis": {"title": "Log₁₀ CFU/g Left mammary gl", "values": [0, 2, 4, 6, 8, 10], "labelFontSize": 8.5, "labelFontWeight": "bold", "tickSize": 4, "tickWidth": 1.5, "domainWidth": 1.5, "titleFontSize": 8, "titleFontWeight": "normal", "titlePadding": 3, "labelPadding": 2}},
              "shape": {"field": "t", "type": "nominal", "scale": {"domain": ["wt", "pbs", "mut", "s19"], "range": ["circle", "square", "circle", "triangle-down"]}, "legend": null},
              "stroke": {"field": "t", "type": "nominal", "scale": {"domain": ["wt", "pbs", "mut", "s19"], "range": ["#000000", "#000000", "#ff0000", "#0000ff"]}, "legend": null},
              "fill": {"field": "t", "type": "nominal", "scale": {"domain": ["wt", "pbs", "mut", "s19"], "range": ["transparent", "transparent", "#ff0000", "transparent"]}, "legend": null}
             }
            },
            {
             "layer": [
              {"data": {"name": "sum"}, "transform": [{"filter": "datum.p === 'F'"}], "mark": {"type": "rule", "color": "#444444", "strokeWidth": 1.5, "clip": true},
               "encoding": {"x": {"field": "g", "type": "quantitative", "scale": {"domain": [0.47, 3.53]}, "axis": null}, "y": {"field": "lo", "type": "quantitative", "scale": {"domain": [0, 10], "nice": false}}, "y2": {"field": "hi"}}},
              {"data": {"name": "sum"}, "transform": [{"filter": "datum.p === 'F'"}], "mark": {"type": "tick", "orient": "horizontal", "size": 44, "thickness": 1.5, "color": "#222222"},
               "encoding": {"x": {"field": "g", "type": "quantitative", "scale": {"domain": [0.47, 3.53]}, "axis": null}, "y": {"field": "mean", "type": "quantitative", "scale": {"domain": [0, 10], "nice": false}}}},
              {"data": {"name": "sum"}, "transform": [{"filter": "datum.p === 'F'"}], "mark": {"type": "tick", "orient": "horizontal", "size": 21, "thickness": 1.5, "color": "#444444", "clip": true},
               "encoding": {"x": {"field": "g", "type": "quantitative", "scale": {"domain": [0.47, 3.53]}, "axis": null}, "y": {"field": "hi", "type": "quantitative", "scale": {"domain": [0, 10], "nice": false}}}},
              {"data": {"name": "sum"}, "transform": [{"filter": "datum.p === 'F'"}], "mark": {"type": "tick", "orient": "horizontal", "size": 21, "thickness": 1.5, "color": "#444444", "clip": true},
               "encoding": {"x": {"field": "g", "type": "quantitative", "scale": {"domain": [0.47, 3.53]}, "axis": null}, "y": {"field": "lo", "type": "quantitative", "scale": {"domain": [0, 10], "nice": false}}}},
              {"data": {"name": "br"}, "transform": [{"filter": "datum.p === 'F'"}], "mark": {"type": "rule", "color": "#777777", "strokeWidth": 1},
               "encoding": {"x": {"field": "g1", "type": "quantitative", "scale": {"domain": [0.47, 3.53]}, "axis": null}, "x2": {"field": "g2"}, "y": {"field": "h", "type": "quantitative", "scale": {"domain": [0, 10], "nice": false}}}},
              {"data": {"name": "br"}, "transform": [{"filter": "datum.p === 'F'"}], "mark": {"type": "point", "shape": "M0,0L0,1", "size": 36, "stroke": "#777777", "strokeWidth": 1, "filled": false, "opacity": 1},
               "encoding": {"x": {"field": "g1", "type": "quantitative", "scale": {"domain": [0.47, 3.53]}, "axis": null}, "y": {"field": "h", "type": "quantitative", "scale": {"domain": [0, 10], "nice": false}}}},
              {"data": {"name": "br"}, "transform": [{"filter": "datum.p === 'F'"}], "mark": {"type": "point", "shape": "M0,0L0,1", "size": 36, "stroke": "#777777", "strokeWidth": 1, "filled": false, "opacity": 1},
               "encoding": {"x": {"field": "g2", "type": "quantitative", "scale": {"domain": [0.47, 3.53]}, "axis": null}, "y": {"field": "h", "type": "quantitative", "scale": {"domain": [0, 10], "nice": false}}}},
              {"data": {"name": "br"}, "transform": [{"filter": "datum.p === 'F'"}], "mark": {"type": "text", "fontSize": 8, "baseline": "alphabetic", "dy": 3, "color": "#333333"},
               "encoding": {"x": {"field": "gm", "type": "quantitative", "scale": {"domain": [0.47, 3.53]}, "axis": null}, "y": {"field": "h", "type": "quantitative", "scale": {"domain": [0, 10], "nice": false}}, "text": {"field": "lab"}}}
             ]
            }
           ],
           "resolve": {"scale": {"x": "independent"}}
          },
          {
           "width": 200, "height": 139,
           "title": {"text": "G", "dx": -43, "offset": -28},
           "layer": [
            {
             "data": {"name": "pts"}, "transform": [{"filter": "datum.p === 'G'"}],
             "mark": {"type": "point", "size": 42, "strokeWidth": 1.5, "opacity": 1},
             "encoding": {
              "x": {"field": "grp", "type": "nominal", "scale": {"type": "band", "domain": ["PBS +Quil-A", "16MΔvjbR+Quil-A", "S19"], "paddingInner": 0, "paddingOuter": 0.03},
                    "axis": {"title": null, "labelAngle": 0, "labelFontSize": 8.5, "labelPadding": 3, "tickSize": 4, "tickWidth": 1.5, "domainWidth": 1.5, "labelBound": false, "labelFlush": false}},
              "xOffset": {"field": "s", "type": "quantitative", "scale": {"domain": [-9, 9]}},
              "y": {"field": "v", "type": "quantitative", "scale": {"domain": [0, 10], "nice": false},
                    "axis": {"title": "Log₁₀ CFU/g Right  mammary gl", "values": [0, 2, 4, 6, 8, 10], "labelFontSize": 8.5, "labelFontWeight": "bold", "tickSize": 4, "tickWidth": 1.5, "domainWidth": 1.5, "titleFontSize": 8, "titleFontWeight": "normal", "titlePadding": 3, "labelPadding": 2}},
              "shape": {"field": "t", "type": "nominal", "scale": {"domain": ["wt", "pbs", "mut", "s19"], "range": ["circle", "square", "circle", "triangle-down"]}, "legend": null},
              "stroke": {"field": "t", "type": "nominal", "scale": {"domain": ["wt", "pbs", "mut", "s19"], "range": ["#000000", "#000000", "#ff0000", "#0000ff"]}, "legend": null},
              "fill": {"field": "t", "type": "nominal", "scale": {"domain": ["wt", "pbs", "mut", "s19"], "range": ["transparent", "transparent", "#ff0000", "transparent"]}, "legend": null}
             }
            },
            {
             "layer": [
              {"data": {"name": "sum"}, "transform": [{"filter": "datum.p === 'G'"}], "mark": {"type": "rule", "color": "#444444", "strokeWidth": 1.5, "clip": true},
               "encoding": {"x": {"field": "g", "type": "quantitative", "scale": {"domain": [0.47, 3.53]}, "axis": null}, "y": {"field": "lo", "type": "quantitative", "scale": {"domain": [0, 10], "nice": false}}, "y2": {"field": "hi"}}},
              {"data": {"name": "sum"}, "transform": [{"filter": "datum.p === 'G'"}], "mark": {"type": "tick", "orient": "horizontal", "size": 44, "thickness": 1.5, "color": "#222222"},
               "encoding": {"x": {"field": "g", "type": "quantitative", "scale": {"domain": [0.47, 3.53]}, "axis": null}, "y": {"field": "mean", "type": "quantitative", "scale": {"domain": [0, 10], "nice": false}}}},
              {"data": {"name": "sum"}, "transform": [{"filter": "datum.p === 'G'"}], "mark": {"type": "tick", "orient": "horizontal", "size": 21, "thickness": 1.5, "color": "#444444", "clip": true},
               "encoding": {"x": {"field": "g", "type": "quantitative", "scale": {"domain": [0.47, 3.53]}, "axis": null}, "y": {"field": "hi", "type": "quantitative", "scale": {"domain": [0, 10], "nice": false}}}},
              {"data": {"name": "sum"}, "transform": [{"filter": "datum.p === 'G'"}], "mark": {"type": "tick", "orient": "horizontal", "size": 21, "thickness": 1.5, "color": "#444444", "clip": true},
               "encoding": {"x": {"field": "g", "type": "quantitative", "scale": {"domain": [0.47, 3.53]}, "axis": null}, "y": {"field": "lo", "type": "quantitative", "scale": {"domain": [0, 10], "nice": false}}}},
              {"data": {"name": "br"}, "transform": [{"filter": "datum.p === 'G'"}], "mark": {"type": "rule", "color": "#777777", "strokeWidth": 1},
               "encoding": {"x": {"field": "g1", "type": "quantitative", "scale": {"domain": [0.47, 3.53]}, "axis": null}, "x2": {"field": "g2"}, "y": {"field": "h", "type": "quantitative", "scale": {"domain": [0, 10], "nice": false}}}},
              {"data": {"name": "br"}, "transform": [{"filter": "datum.p === 'G'"}], "mark": {"type": "point", "shape": "M0,0L0,1", "size": 36, "stroke": "#777777", "strokeWidth": 1, "filled": false, "opacity": 1},
               "encoding": {"x": {"field": "g1", "type": "quantitative", "scale": {"domain": [0.47, 3.53]}, "axis": null}, "y": {"field": "h", "type": "quantitative", "scale": {"domain": [0, 10], "nice": false}}}},
              {"data": {"name": "br"}, "transform": [{"filter": "datum.p === 'G'"}], "mark": {"type": "point", "shape": "M0,0L0,1", "size": 36, "stroke": "#777777", "strokeWidth": 1, "filled": false, "opacity": 1},
               "encoding": {"x": {"field": "g2", "type": "quantitative", "scale": {"domain": [0.47, 3.53]}, "axis": null}, "y": {"field": "h", "type": "quantitative", "scale": {"domain": [0, 10], "nice": false}}}},
              {"data": {"name": "br"}, "transform": [{"filter": "datum.p === 'G'"}], "mark": {"type": "text", "fontSize": 8, "baseline": "alphabetic", "dy": 3, "color": "#333333"},
               "encoding": {"x": {"field": "gm", "type": "quantitative", "scale": {"domain": [0.47, 3.53]}, "axis": null}, "y": {"field": "h", "type": "quantitative", "scale": {"domain": [0, 10], "nice": false}}, "text": {"field": "lab"}}}
             ]
            }
           ],
           "resolve": {"scale": {"x": "independent"}}
          }
         ]
        }
       ]
      }
     ]
    }
   ]
  }
 ]
}
